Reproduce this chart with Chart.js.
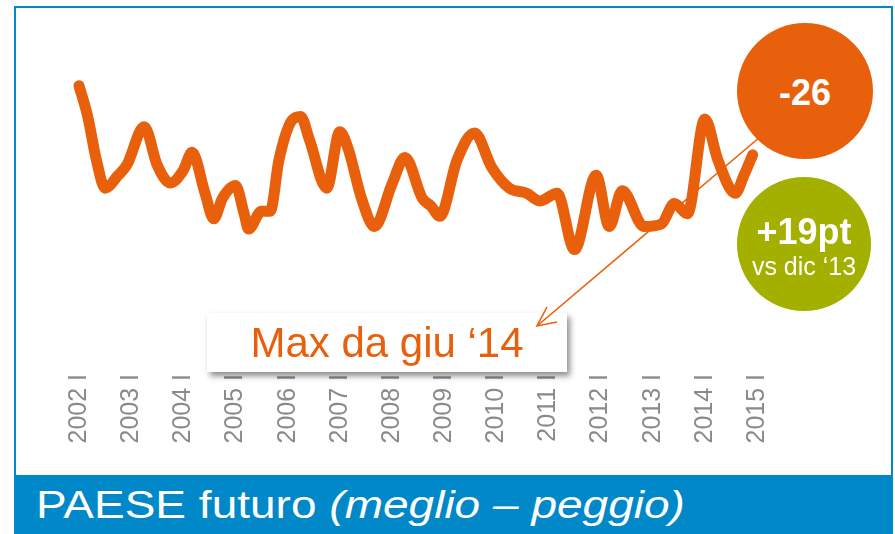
<!DOCTYPE html>
<html>
<head>
<meta charset="utf-8">
<script src="https://cdn.jsdelivr.net/npm/chart.js@4"></script>
<style>
  html, body { margin: 0; padding: 0; background: #fff; }
  #wrap { position: relative; width: 895px; height: 534px; overflow: hidden; font-family: "Liberation Sans", Arial, sans-serif; }
  #chart { position: absolute; left: 0; top: 0; }
  .frame { position: absolute; left: 14px; top: 6px; width: 875px; height: 528px; border: 2px solid #0088C9; border-bottom: none; }
  .band { position: absolute; left: 14px; top: 475px; width: 879px; height: 59px; background: #0088C9; }
  .band span { position: absolute; left: 22px; top: 10px; font-size: 39px; line-height: 40px; color: #fff; white-space: nowrap;
               transform: scaleX(1.18); transform-origin: 0 0; }
  .band i { font-style: italic; }
  .box { position: absolute; left: 207px; top: 313px; width: 360px; height: 59px; background: #fff;
         box-shadow: 3px 4px 6px rgba(0,0,0,0.45); color: #E8600C; font-size: 42px; line-height: 59px; text-align: center; }
  .circle { position: absolute; border-radius: 50%; color: #fff; text-align: center; }
  .c1 { left: 737px; top: 23px; width: 136px; height: 136px; background: #E8600C; }
  .c1 b { display: block; font-size: 36px; line-height: 36px; margin-top: 52px; }
  .c2 { left: 737px; top: 177px; width: 134px; height: 134px; background: #A3B000; }
  .c2 b { display: block; font-size: 36px; line-height: 36px; margin-top: 37px; }
  .c2 span { display: block; font-size: 25px; line-height: 28px; margin-top: 2px; }
  svg { position: absolute; left: 0; top: 0; }
</style>
</head>
<body>
<div id="wrap">
  <canvas id="chart" width="895" height="534"></canvas>
  <div class="frame"></div>
  <div class="band"><span>PAESE futuro <i>(meglio – peggio)</i></span></div>
  <div class="box">Max da giu ‘14</div>
  <svg width="895" height="534">
    <line x1="760" y1="137" x2="537" y2="326" stroke="#E8600C" stroke-width="1.6"/>
    <polyline points="547,307 537,326 557,322" fill="none" stroke="#E8600C" stroke-width="1.6"/>
  </svg>
  <div class="circle c1"><b>-26</b></div>
  <div class="circle c2"><b>+19pt</b><span>vs dic ‘13</span></div>
</div>
<script>
// mesi dal gennaio 2002 (0 = 2002 I) e saldo meglio - peggio
const mesi = [0, 2, 4, 6, 9, 11, 15, 18, 21, 24, 26, 29, 31, 33, 36, 38, 39, 42, 44, 46, 49,
              51, 53, 57, 60, 62, 65, 68, 72, 75, 79, 81, 83, 87, 91, 95, 99, 103, 106, 110,
              114, 119, 122, 125, 130, 134, 137, 140, 144, 147, 151, 153, 155];
const valori = [1, -11, -28, -39, -34, -30, -15, -30, -37, -32, -25, -41, -51, -43, -38, -49, -55, -48, -48, -28, -12.5,
                -11, -20, -39, -17, -24, -43, -54, -37.5, -27, -43, -46, -50, -28, -17.5, -31, -39, -41, -44, -41,
                -63, -34, -54, -40, -54, -53, -45, -49, -12, -28, -41, -34, -26];
const anni = [2002, 2003, 2004, 2005, 2006, 2007, 2008, 2009, 2010, 2011, 2012, 2013, 2014, 2015];

const punti = mesi.map((m, i) => ({ x: m, y: valori[i] }));

new Chart(document.getElementById('chart'), {
    type: 'line',
    data: {
        datasets: [{
            data: punti,
            borderColor: '#E8600C',
            borderWidth: 11,
            borderCapStyle: 'round',
            borderJoinStyle: 'round',
            pointRadius: 0,
            cubicInterpolationMode: 'monotone',
            fill: false,
            clip: false
        }]
    },
    options: {
        responsive: false,
        animation: false,
        devicePixelRatio: 1,
        layout: { padding: { left: 79, right: 138, top: 37, bottom: 0 } },
        plugins: { legend: { display: false }, tooltip: { enabled: false } },
        scales: {
            x: {
                type: 'linear',
                min: 0,
                max: 156,
                grid: { display: false },
                border: { display: false },
                afterFit: (scale) => { scale.height = 164; },
                ticks: {
                    stepSize: 12,
                    autoSkip: false,
                    maxRotation: 90,
                    minRotation: 90,
                    padding: -4,
                    color: '#8A8A8A',
                    font: { family: 'Liberation Sans', size: 25 },
                    callback: (v) => anni[v / 12] + ' I'
                }
            },
            y: {
                display: false,
                min: -110,
                max: 20
            }
        }
    }
});
</script>
</body>
</html>
